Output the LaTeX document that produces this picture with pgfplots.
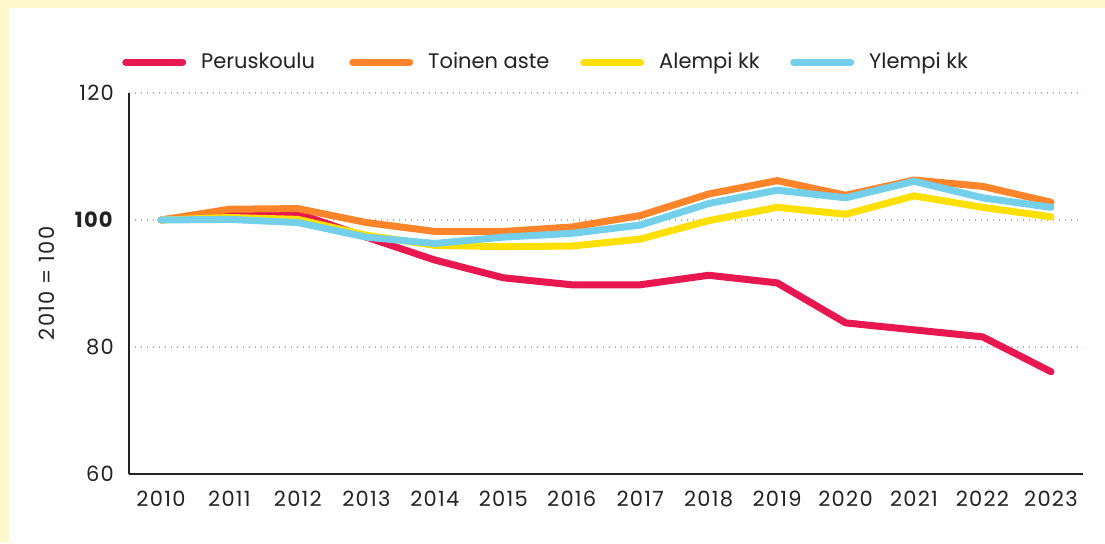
\documentclass[border=0pt]{standalone}
\usepackage{fontspec}
\setmainfont{Poppins}
\newfontfamily\tickfont{Poppins}[LetterSpace=6]
\usepackage{pgfplots}
\pgfplotsset{compat=1.18}
\definecolor{bgyellow}{HTML}{FFF8CE}
\definecolor{cred}{HTML}{E8174F}
\definecolor{corange}{HTML}{FF842A}
\definecolor{cyellow}{HTML}{FFE000}
\definecolor{cblue}{HTML}{74CFEA}
\definecolor{txt}{HTML}{222222}
\begin{document}
\begin{tikzpicture}[x=1pt,y=1pt]
\fill[bgyellow] (0,0) rectangle (552.5,271.5);
\fill[white] (4.5,0) rectangle (552.5,267.5);
\useasboundingbox (0,0) rectangle (552.5,271.5);
\begin{axis}[
  at={(64.5pt,34.5pt)}, anchor=south west,
  scale only axis, width=477pt, height=190.5pt,
  xmin=2009.533, xmax=2023.467, ymin=60, ymax=120,
  axis x line=bottom, axis y line=left,
  axis line style={-, line width=0.7pt, color=txt},
  major tick length=0pt,
  xtick={2010,...,2023},
  ytick={60,80,100,120},
  yticklabels={60,80,\textbf{100},120},
  x tick label style={/pgf/number format/1000 sep={}, /pgf/number format/assume math mode=true, yshift=-5pt},
  y tick label style={xshift=-4pt},
  tick label style={font=\tickfont\fontsize{10.5}{12}\selectfont, text=txt},
  ymajorgrids,
  grid style={line width=0.6pt, color=gray!60, dash pattern=on 0.6pt off 2.4pt},
  ylabel={2010 = 100},
  ylabel style={at={(axis description cs:-0.086,0.5)}, anchor=center, font=\tickfont\fontsize{10.5}{12}\selectfont, text=txt},
  every axis plot/.append style={line width=3.5pt, line join=round, line cap=round, mark=none},
  legend image code/.code={\draw[line width=3.5pt, line cap=round] (0pt,0pt) -- (28.5pt,0pt);},
  legend columns=4,
  legend style={draw=none, fill=none, inner sep=0pt, anchor=west,
    at={(axis description cs:-0.0075,1.0814)},
    font=\fontsize{10.5}{12}\selectfont, text=txt,
    nodes={inner sep=0pt},
    /tikz/every odd column/.append style={column sep=7.5pt},
    /tikz/every even column/.append style={column sep=0pt}},
]
\addplot[cred] coordinates {(2010,100) (2011,101.3) (2012,101.0) (2013,97.3) (2014,93.7) (2015,90.9) (2016,89.8) (2017,89.8) (2018,91.3) (2019,90.1) (2020,83.8) (2021,82.7) (2022,81.6) (2023,76.1)};
\addlegendentry{\makebox[74pt][l]{Peruskoulu}}
\addplot[corange] coordinates {(2010,100) (2011,101.7) (2012,101.8) (2013,99.6) (2014,98.2) (2015,98.2) (2016,98.9) (2017,100.7) (2018,104.1) (2019,106.2) (2020,103.9) (2021,106.3) (2022,105.3) (2023,102.8)};
\addlegendentry{\makebox[76pt][l]{Toinen aste}}
\addplot[cyellow] coordinates {(2010,100) (2011,100.4) (2012,100.1) (2013,97.6) (2014,96.0) (2015,95.8) (2016,95.9) (2017,97.0) (2018,99.9) (2019,102.0) (2020,100.9) (2021,103.8) (2022,102.0) (2023,100.5)};
\addlegendentry{\makebox[65.5pt][l]{Alempi kk}}
\addplot[cblue] coordinates {(2010,100) (2011,100.1) (2012,99.6) (2013,97.3) (2014,96.3) (2015,97.3) (2016,97.9) (2017,99.2) (2018,102.6) (2019,104.7) (2020,103.5) (2021,106.1) (2022,103.5) (2023,102.0)};
\addlegendentry{Ylempi kk}
\end{axis}
\end{tikzpicture}
\end{document}
